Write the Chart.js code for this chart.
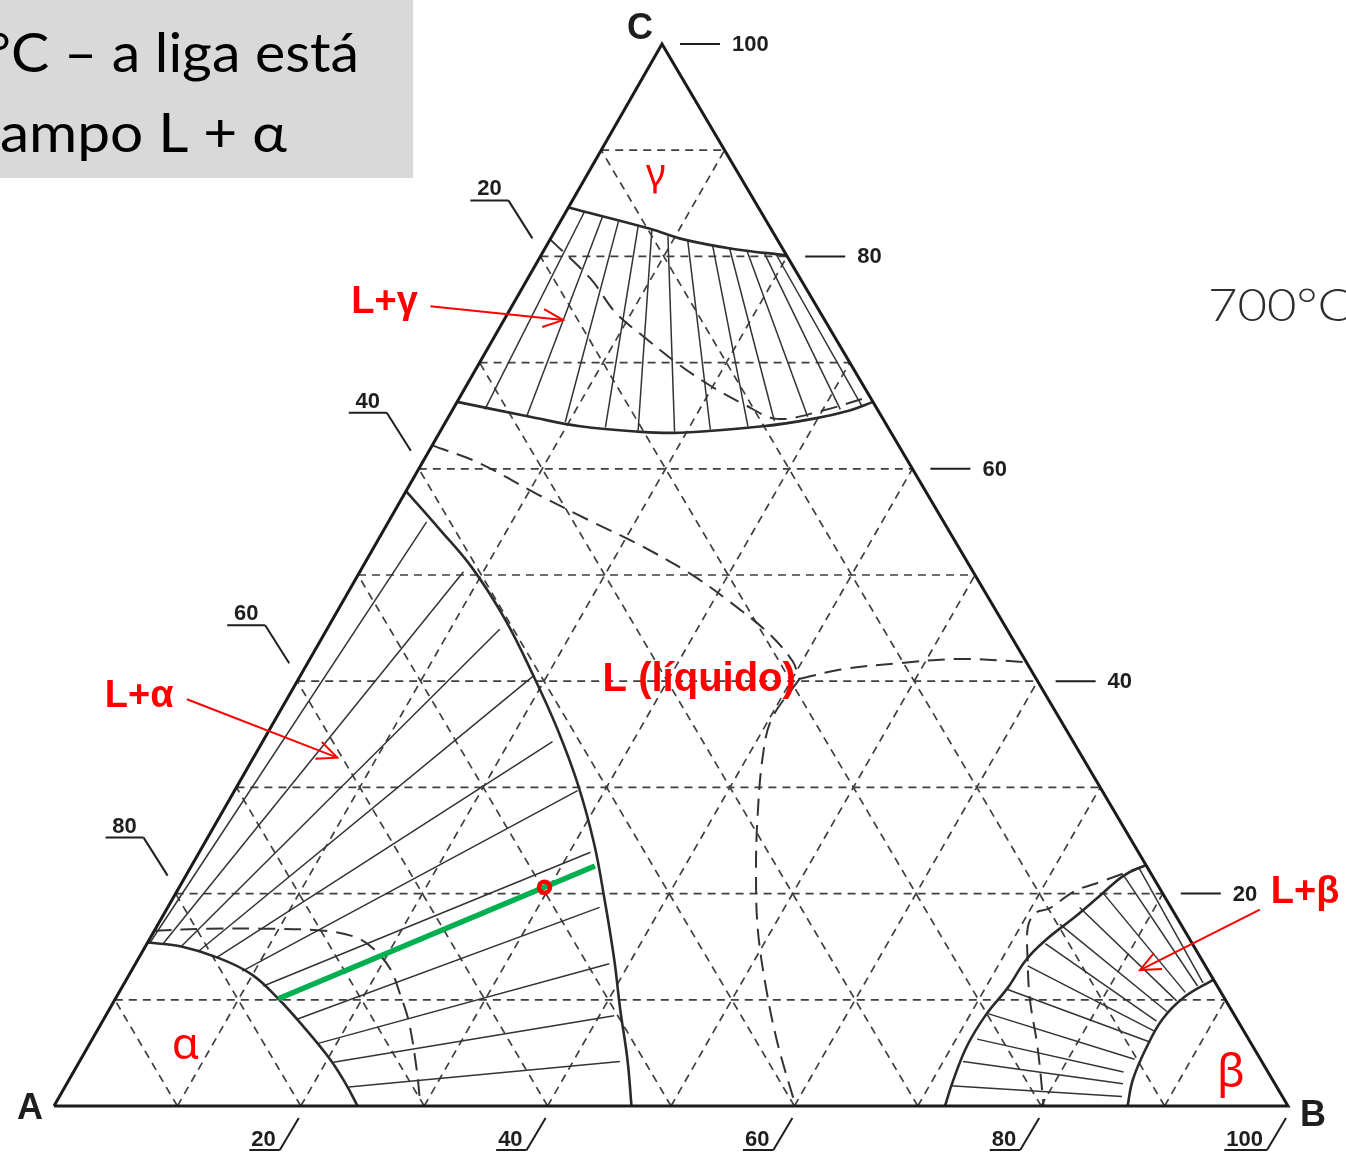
<!DOCTYPE html>
<html>
<head>
<meta charset="utf-8">
<script src="https://cdn.jsdelivr.net/npm/chart.js@4.4.1/dist/chart.umd.min.js"></script>
<style>
  html, body { margin: 0; padding: 0; background: #fff; overflow: hidden; }
  canvas { display: block; }
</style>
</head>
<body>
<canvas id="diagram" width="1346" height="1157"></canvas>
<script>
// Isothermal section of the A-B-C system at 700 °C.
// Every composition is written as [B %, C %]; A is the balance.

const GRID_STEPS = [10, 20, 30, 40, 50, 60, 70, 80, 90];
const C_TICKS = [100, 80, 60, 40, 20];
const A_TICKS = [20, 40, 60, 80];
const B_TICKS = [20, 40, 60, 80, 100];

// gamma corner
const gammaSolvus = [[0, 84.6], [7.6, 82.6], [10.8, 81.6], [15.3, 80.7], [19.9, 80.1]];
const gammaLiquidus = [[0, 66.3], [6.6, 64.9], [11.1, 64.0], [16.0, 63.5], [19.5, 63.4], [25.9, 64.0], [29.6, 64.7], [32.2, 65.5], [33.7, 66.3]];
const gammaTies = [
  [[1.5, 84.2], [2.6, 65.6]],
  [[3.2, 83.7], [6.3, 65.0]],
  [[4.7, 83.3], [9.7, 64.4]],
  [[6.5, 82.9], [13.2, 63.9]],
  [[7.8, 82.5], [16.0, 63.6]],
  [[9.4, 81.9], [19.0, 63.5]],
  [[11.2, 81.5], [21.8, 63.7]],
  [[13.4, 81.1], [24.7, 64.0]],
  [[15.0, 80.7], [26.6, 64.5]],
  [[16.5, 80.5], [29.1, 64.9]],
  [[18.0, 80.3], [31.4, 65.6]],
  [[19.0, 80.2], [33.0, 65.9]]
];

// alpha corner
const alphaLiquidus = [[0, 57.9], [4.5, 54.3], [9.0, 50.6], [14.0, 45.8], [18.9, 40.5], [23.3, 35.5], [27.6, 30.2], [31.6, 24.7], [35.0, 19.5], [38.6, 13.8], [41.4, 9.1], [44.3, 4.4], [46.8, 0]];
const alphaSolvus = [[0, 15.4], [3.0, 15.0], [6.3, 14.0], [9.9, 12.4], [13.2, 10.1], [16.5, 7.5], [20.2, 4.4], [22.8, 1.9], [24.6, 0]];
const alphaTies = [
  [[0.2, 15.4], [3.1, 55.0]],
  [[1.3, 15.2], [8.4, 50.3]],
  [[2.9, 15.0], [14.0, 44.9]],
  [[4.5, 14.5], [18.9, 40.5]],
  [[6.3, 14.0], [23.5, 34.3]],
  [[9.0, 12.7], [27.8, 29.7]],
  [[11.4, 11.3], [31.7, 23.9]],
  [[15.7, 8.2], [35.0, 18.7]],
  [[18.5, 5.9], [38.4, 13.4]],
  [[20.5, 4.1], [41.2, 8.5]],
  [[23.0, 1.8], [43.8, 4.2]]
];

// beta corner
const betaLiquidus = [[72.2, 0], [71.7, 2.3], [71.2, 5.7], [71.3, 8.7], [71.8, 11.1], [72.0, 13.8], [72.7, 15.7], [73.9, 17.7], [75.0, 19.8], [76.0, 21.7], [77.3, 22.7]];
const betaSolvus = [[87.0, 0], [86.2, 2.5], [85.8, 5.7], [85.8, 8.2], [86.5, 10.2], [88.1, 11.9]];
const betaTies = [
  [[71.7, 1.9], [86.1, 0.9]],
  [[71.6, 4.2], [85.6, 2.1]],
  [[71.7, 6.3], [85.1, 3.2]],
  [[71.4, 8.7], [85.4, 4.4]],
  [[71.8, 11.0], [85.9, 6.0]],
  [[72.4, 13.2], [85.8, 7.0]],
  [[72.8, 15.3], [85.4, 8.0]],
  [[73.1, 17.1], [85.8, 8.9]],
  [[73.9, 18.7], [86.1, 9.9]],
  [[75.2, 20.0], [86.4, 10.7]],
  [[76.0, 21.7], [87.1, 11.3]],
  [[76.8, 22.5], [87.4, 11.6]]
];

// long-dashed traces from the neighbouring temperatures
const dashGamma = [[0, 81.6], [5.1, 77.9], [8.7, 74.7], [12.0, 72.5], [16.1, 69.9], [20.0, 67.7], [23.3, 66.1], [26.7, 64.7], [29.8, 65.4], [33.2, 66.8]];
const dashValley = [[0, 62.2], [4.5, 60.6], [10.8, 57.6], [16.3, 55.1], [21.5, 52.8], [26.9, 50.1], [31.5, 47.4], [36.0, 44.5], [39.2, 41.9], [40.6, 40.2]];
const dashRidge = [[40.6, 40.2], [43.5, 41.1], [48.0, 41.7], [52.7, 42.1], [58.2, 41.8]];
const dashTrough = [[40.6, 40.2], [40.2, 36.4], [41.3, 32.7], [43.7, 27.0], [45.9, 22.3], [48.8, 16.7], [52.3, 11.0], [55.8, 5.8], [60.1, 0]];
const dashAlpha = [[0, 16.5], [4.3, 16.7], [8.5, 16.7], [13.8, 16.5], [16.6, 15.9], [18.6, 14.8], [20.9, 12.9], [22.8, 10.6], [24.8, 8.0], [27.6, 3.6], [29.7, 0]];
const dashBeta = [[77.4, 22.7], [74.4, 21.1], [72.7, 20.2], [71.5, 18.6], [70.6, 18.2], [70.6, 16.9], [72.1, 13.8], [74.1, 10.1], [77.0, 5.5], [80.2, 0]];

// the alloy and its tie line
const alloyTie = [[13.2, 10.1], [32.7, 22.6]];
const alloy = [29.6, 20.6];

// ---------------------------------------------------------------------------
const SKEW = 0.4927;                         // x shift of the C apex per unit of C
const toXY = ([b, c]) => ({ x: b + SKEW * c, y: c });

function lineSet(points, style, order) {
  return Object.assign({
    data: points.map(toXY),
    showLine: true,
    pointRadius: 0,
    pointHoverRadius: 0,
    fill: false,
    borderColor: '#2b2b2b',
    borderWidth: 1.5,
    tension: 0,
    order: order
  }, style);
}

const GRID = { borderColor: '#3f3f3f', borderWidth: 1.7, borderDash: [8, 6] };
const LONG_DASH = { borderColor: '#333', borderWidth: 2, borderDash: [17, 9], tension: 0.35 };
const BOUNDARY = { borderColor: '#2a2a2a', borderWidth: 2.6, tension: 0.4 };
const TIE = { borderColor: '#333', borderWidth: 1.5 };

const datasets = [];
GRID_STEPS.forEach(k => {
  datasets.push(lineSet([[0, k], [100 - k, k]], GRID, 60));
  datasets.push(lineSet([[k, 0], [k, 100 - k]], GRID, 60));
  datasets.push(lineSet([[100 - k, 0], [0, 100 - k]], GRID, 60));
});
[dashGamma, dashValley, dashRidge, dashTrough, dashAlpha, dashBeta].forEach(d => datasets.push(lineSet(d, LONG_DASH, 50)));
[gammaTies, alphaTies, betaTies].forEach(group => group.forEach(t => datasets.push(lineSet(t, TIE, 40))));
[gammaSolvus, gammaLiquidus, alphaLiquidus, alphaSolvus, betaLiquidus, betaSolvus].forEach(d => datasets.push(lineSet(d, BOUNDARY, 30)));
datasets.push(lineSet([[0, 0], [100, 0], [0, 100], [0, 0]], { borderColor: '#1b1b1b', borderWidth: 3, borderJoinStyle: 'miter' }, 20));
datasets.push(lineSet(alloyTie, { borderColor: '#00b050', borderWidth: 5.5 }, 10));
datasets.push({
  data: [toXY(alloy)], showLine: false, pointRadius: 5.5, pointHoverRadius: 5.5,
  pointBorderWidth: 4.5, pointBorderColor: '#ff0000', pointBackgroundColor: 'rgba(0,0,0,0)', order: 5
});

// labels placed in composition space
const phaseLabels = [
  { text: 'γ', at: [5.6, 87.6], font: '38px "Noto Sans", sans-serif', align: 'center' },
  { text: 'L+γ', at: [-13.2, 75.7], font: 'bold 38px "Liberation Sans", Arial, sans-serif', align: 'left' },
  { text: 'L+α', at: [-14.9, 38.6], font: 'bold 38px "Liberation Sans", Arial, sans-serif', align: 'left' },
  { text: 'α', at: [7.9, 5.6], font: '44px "Noto Sans", sans-serif', align: 'center' },
  { text: 'L (líquido)', at: [24.7, 40.1], font: 'bold 40px "Liberation Sans", Arial, sans-serif', align: 'left' },
  { text: 'L+β', at: [88.7, 20.1], font: 'bold 38px "Liberation Sans", Arial, sans-serif', align: 'left' },
  { text: 'β', at: [93.9, 3.0], font: '46px "Noto Sans", sans-serif', align: 'center' }
];
const labelArrows = [
  { from: [-6.6, 75.3], to: [4.8, 74.0] },
  { from: [-8.1, 38.3], to: [6.8, 32.8] },
  { from: [88.6, 18.5], to: [81.7, 12.8] }
];
const vertexLabels = [
  { text: 'A', at: [0, 0], dx: -24, dy: 3 },
  { text: 'B', at: [100, 0], dx: 25, dy: 10 },
  { text: 'C', at: [0, 100], dx: -22, dy: -15 }
];

function seg(ctx, x1, y1, x2, y2) {
  ctx.beginPath(); ctx.moveTo(x1, y1); ctx.lineTo(x2, y2); ctx.stroke();
}

function drawFitted(ctx, hidden, shown, x0, x1, baseline) {
  const wHidden = ctx.measureText(hidden).width;
  const wShown = ctx.measureText(shown).width;
  const s = (x1 - x0) / wShown;
  ctx.save();
  ctx.translate(x0, baseline);
  ctx.scale(s, 1);
  ctx.fillText(hidden + shown, -wHidden, 0);
  ctx.restore();
}

const annotations = {
  id: 'annotations',
  beforeDraw(chart) {
    const ctx = chart.ctx;
    ctx.save();
    ctx.fillStyle = '#ffffff';
    ctx.fillRect(0, 0, chart.width, chart.height);
    ctx.restore();
  },
  afterDatasetsDraw(chart) {
    const ctx = chart.ctx;
    const xs = chart.scales.x, ys = chart.scales.y;
    const P = ([b, c]) => [xs.getPixelForValue(b + SKEW * c), ys.getPixelForValue(c)];
    ctx.save();

    // axis ticks
    ctx.strokeStyle = '#1e1e1e';
    ctx.fillStyle = '#1e1e1e';
    ctx.lineWidth = 2;
    ctx.font = 'bold 22px "Liberation Sans", Arial, sans-serif';

    C_TICKS.forEach(c => {
      const [px, py] = P([100 - c, c]);
      seg(ctx, px + 18, py, px + 58, py);
      ctx.textAlign = 'left'; ctx.textBaseline = 'middle';
      ctx.fillText(String(c), px + 70, py + 1);
    });

    A_TICKS.forEach(a => {
      const [px, py] = P([0, 100 - a]);
      seg(ctx, px - 70, py - 56, px - 32, py - 56);
      seg(ctx, px - 32, py - 56, px - 8, py - 18);
      ctx.textAlign = 'center'; ctx.textBaseline = 'alphabetic';
      ctx.fillText(String(a), px - 51, py - 61);
    });

    B_TICKS.forEach(b => {
      const [px, py] = P([b, 0]);
      const label = String(b);
      const tw = ctx.measureText(label).width;
      ctx.textAlign = 'right'; ctx.textBaseline = 'alphabetic';
      ctx.fillText(label, px - 25, py + 40);
      seg(ctx, px - 27 - tw, py + 44, px - 21, py + 44);
      seg(ctx, px - 21, py + 44, px - 2, py + 12);
    });

    // vertex names
    ctx.font = 'bold 36px "Liberation Sans", Arial, sans-serif';
    ctx.textAlign = 'center'; ctx.textBaseline = 'middle';
    vertexLabels.forEach(v => {
      const [px, py] = P(v.at);
      ctx.fillText(v.text, px + v.dx, py + v.dy);
    });

    // phase fields
    ctx.fillStyle = '#ff0000';
    ctx.strokeStyle = '#ff0000';
    phaseLabels.forEach(l => {
      const [px, py] = P(l.at);
      ctx.font = l.font;
      ctx.textAlign = l.align; ctx.textBaseline = 'middle';
      ctx.fillText(l.text, px, py);
    });
    ctx.lineWidth = 2;
    labelArrows.forEach(a => {
      const [x1, y1] = P(a.from), [x2, y2] = P(a.to);
      seg(ctx, x1, y1, x2, y2);
      const ang = Math.atan2(y2 - y1, x2 - x1), len = 22, spread = 0.42;
      ctx.beginPath();
      ctx.moveTo(x2 - len * Math.cos(ang - spread), y2 - len * Math.sin(ang - spread));
      ctx.lineTo(x2, y2);
      ctx.lineTo(x2 - len * Math.cos(ang + spread), y2 - len * Math.sin(ang + spread));
      ctx.stroke();
    });

    // temperature note
    ctx.fillStyle = '#2e2e2e';
    ctx.font = '300 46px Lato, "DejaVu Sans", sans-serif';
    ctx.textAlign = 'left'; ctx.textBaseline = 'alphabetic';
    drawFitted(ctx, '', '700°C', 1208, 1352, 321);

    // caption box
    ctx.fillStyle = '#d9d9d9';
    ctx.fillRect(0, 0, 413, 178);
    ctx.fillStyle = '#000000';
    ctx.font = '54px Lato, "Open Sans", sans-serif';
    drawFitted(ctx, 'A 700°', 'C – a liga está', 11, 359, 72);
    drawFitted(ctx, 'no c', 'ampo L + α', 0, 287, 152);

    ctx.restore();
  }
};

// 12.34 px per unit horizontally, 10.62 px per unit vertically
const X_MIN = -4.376, X_MAX = 104.70;
const Y_MIN = -4.80, Y_MAX = 104.14;

new Chart(document.getElementById('diagram'), {
  type: 'scatter',
  data: { datasets: datasets },
  options: {
    responsive: false,
    animation: false,
    devicePixelRatio: 1,
    events: [],
    layout: { padding: 0, autoPadding: false },
    plugins: { legend: { display: false }, tooltip: { enabled: false }, title: { display: false } },
    scales: {
      x: { type: 'linear', min: X_MIN, max: X_MAX, display: false },
      y: { type: 'linear', min: Y_MIN, max: Y_MAX, display: false }
    }
  },
  plugins: [annotations]
});
</script>
</body>
</html>
